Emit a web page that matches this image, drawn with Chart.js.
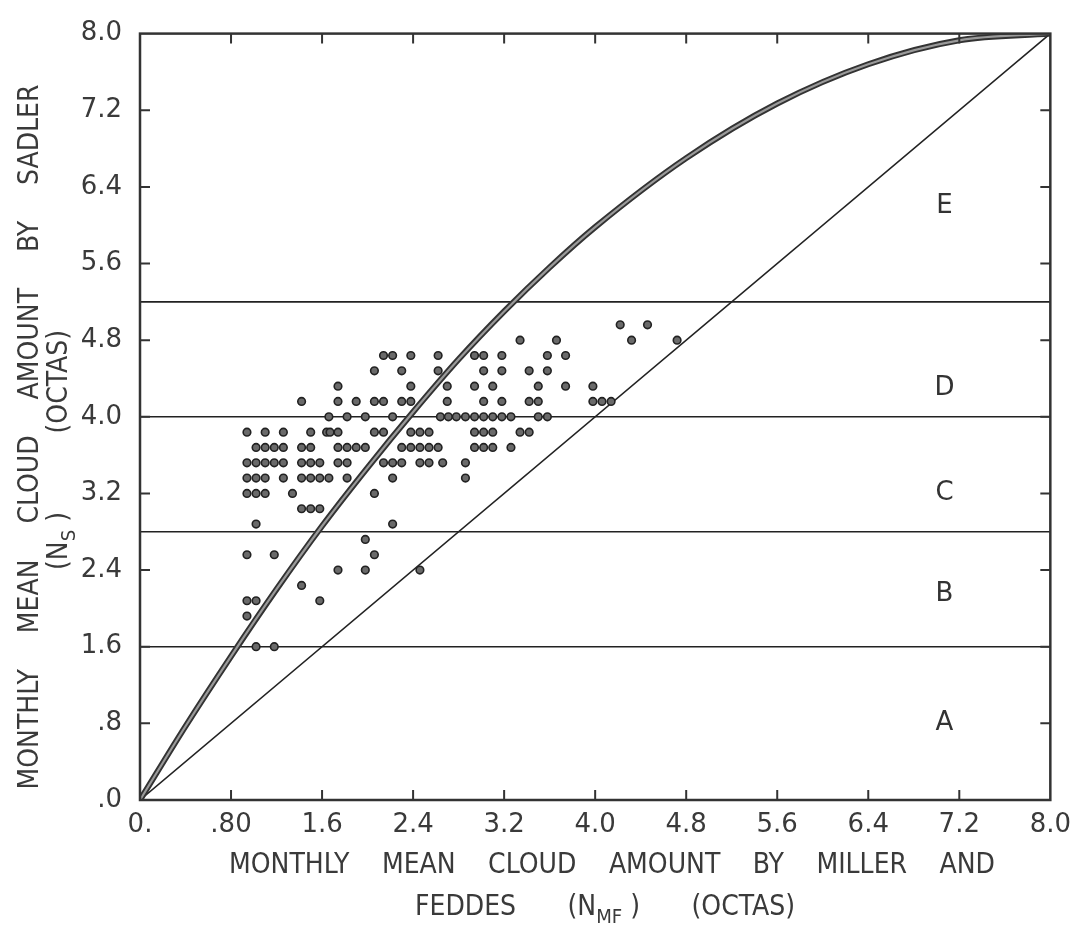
<!DOCTYPE html>
<html lang="en">
<head>
<meta charset="UTF-8">
<title>Monthly mean cloud amount: Sadler vs Miller and Feddes</title>
<style>
  html, body { margin: 0; padding: 0; background: #fff; }
  #chart { display: block; }
</style>
</head>
<body>
<canvas id="chart" width="1081" height="927"></canvas>
<script src="https://cdn.jsdelivr.net/npm/chart.js@4"></script>
<script>
// axis ticks
const xTickValues = [0, 0.8, 1.6, 2.4, 3.2, 4.0, 4.8, 5.6, 6.4, 7.2, 8.0];
const xTickLabels = ['0.', '.80', '1.6', '2.4', '3.2', '4.0', '4.8', '5.6', '6.4', '7.2', '8.0'];
const yTickValues = [0, 0.8, 1.6, 2.4, 3.2, 4.0, 4.8, 5.6, 6.4, 7.2, 8.0];
const yTickLabels = ['.0', '.8', '1.6', '2.4', '3.2', '4.0', '4.8', '5.6', '6.4', '7.2', '8.0'];

// class boundaries and their letters
const bandLimits = [1.6, 2.8, 4.0, 5.2];
const bandNames = ['A', 'B', 'C', 'D', 'E'];
const bandNameY = [0.8, 2.15, 3.2, 4.3, 6.2];
const bandNameX = 7.07;

// heavy curve and the 1:1 line
const curveX = [0, 0.4, 0.8, 1.2, 1.6, 2.0, 2.4, 2.8, 3.2, 3.6, 4.0, 4.8, 5.6, 6.4, 7.2, 8.0];
const curveY = [0, 0.77, 1.5, 2.2, 2.86, 3.47, 4.05, 4.6, 5.1, 5.56, 5.98, 6.7, 7.27, 7.68, 7.93, 8.0];
const diagX = [0, 8];
const diagY = [0, 8];

// monthly points, grouped by their N_S level
const rowLevels = [4.96, 4.80, 4.64, 4.48, 4.32, 4.16, 4.00, 3.84, 3.68, 3.52, 3.36, 3.20, 3.04];
const rowPoints = [
  [4.22, 4.46],
  [3.34, 3.66, 4.32, 4.72],
  [2.14, 2.22, 2.38, 2.62, 2.94, 3.02, 3.18, 3.58, 3.74],
  [2.06, 2.30, 2.62, 3.02, 3.18, 3.42, 3.58],
  [1.74, 2.38, 2.70, 2.94, 3.10, 3.50, 3.74, 3.98],
  [1.42, 1.74, 1.90, 2.06, 2.14, 2.30, 2.38, 2.70, 3.02, 3.18, 3.42, 3.50, 3.98, 4.06, 4.14],
  [1.66, 1.82, 1.98, 2.22, 2.64, 2.71, 2.78, 2.86, 2.94, 3.02, 3.10, 3.18, 3.26, 3.50, 3.58],
  [0.94, 1.10, 1.26, 1.50, 1.64, 1.67, 1.74, 2.06, 2.14, 2.38, 2.46, 2.54, 2.94, 3.02, 3.10, 3.34, 3.42],
  [1.02, 1.10, 1.18, 1.26, 1.42, 1.50, 1.74, 1.82, 1.90, 1.98, 2.30, 2.38, 2.46, 2.54, 2.62, 2.94, 3.02, 3.10, 3.26],
  [0.94, 1.02, 1.10, 1.18, 1.26, 1.42, 1.50, 1.58, 1.74, 1.82, 2.14, 2.22, 2.30, 2.46, 2.54, 2.66, 2.86],
  [0.94, 1.02, 1.10, 1.26, 1.42, 1.50, 1.58, 1.66, 1.82, 2.22, 2.86],
  [0.94, 1.02, 1.10, 1.34, 2.06],
  [1.42, 1.50, 1.58]
];
// scattered low points
const lowX = [1.02, 2.22, 1.98, 0.94, 1.18, 2.06, 1.74, 1.98, 2.46, 1.42, 0.94, 1.02, 1.58, 0.94, 1.02, 1.18];
const lowY = [2.88, 2.88, 2.72, 2.56, 2.56, 2.56, 2.40, 2.40, 2.40, 2.24, 2.08, 2.08, 2.08, 1.92, 1.60, 1.60];

const ink = '#333';
const fontFamily = "'DejaVu Sans', 'Liberation Sans', sans-serif";
const titleFamily = "'DejaVu Sans Condensed', 'Liberation Sans Narrow', 'DejaVu Sans', sans-serif";

const scatterData = [];
rowLevels.forEach((y, i) => rowPoints[i].forEach(x => scatterData.push({ x: x, y: y })));
lowX.forEach((x, i) => scatterData.push({ x: x, y: lowY[i] }));

const toXY = (xs, ys) => xs.map((x, i) => ({ x: x, y: ys[i] }));

const lineSet = (data, width, color, order) => ({
  type: 'line',
  data: data,
  showLine: true,
  borderColor: color,
  borderWidth: width,
  pointRadius: 0,
  fill: false,
  tension: 0,
  order: order
});

const datasets = [];
bandLimits.forEach(v => datasets.push(lineSet([{ x: 0, y: v }, { x: 8, y: v }], 1.6, '#222', 4)));
datasets.push(lineSet(toXY(diagX, diagY), 1.5, '#222', 4));
// heavy curve: dark edges with a grey core
const curveOuter = lineSet(toXY(curveX, curveY), 6, '#333', 3);
curveOuter.cubicInterpolationMode = 'monotone';
const curveInner = lineSet(toXY(curveX, curveY), 2.2, '#9a9a9a', 2);
curveInner.cubicInterpolationMode = 'monotone';
datasets.push(curveOuter, curveInner);
datasets.push({
  type: 'scatter',
  data: scatterData,
  pointRadius: 3.8,
  borderWidth: 1.6,
  borderColor: '#222',
  backgroundColor: '#6a6a6a',
  order: 1
});

// draw text pieces, some of them as subscripts, spread to a given width
function drawPieces(ctx, words, cx, cy, size, targetWidth) {
  const subSize = size * 0.72;
  const widths = words.map(parts => parts.reduce((w, p) => {
    ctx.font = (p[1] ? subSize : size) + 'px ' + titleFamily;
    return w + ctx.measureText(p[0]).width;
  }, 0));
  const total = widths.reduce((a, b) => a + b, 0);
  const gap = words.length > 1 ? (targetWidth - total) / (words.length - 1) : 0;
  let x = cx - targetWidth / 2;
  ctx.textBaseline = 'alphabetic';
  ctx.textAlign = 'left';
  words.forEach(parts => {
    parts.forEach(p => {
      ctx.font = (p[1] ? subSize : size) + 'px ' + titleFamily;
      ctx.fillText(p[0], x, cy + (p[1] ? size * 0.3 : 0));
      x += ctx.measureText(p[0]).width;
    });
    x += gap;
  });
}

const decorations = {
  id: 'decorations',
  afterDraw(chart) {
    const ctx = chart.ctx;
    const xs = chart.scales.x, ys = chart.scales.y;
    const a = chart.chartArea;
    ctx.save();
    ctx.strokeStyle = ink;
    ctx.fillStyle = ink;

    // frame
    ctx.lineWidth = 2.5;
    ctx.strokeRect(a.left, a.top, a.right - a.left, a.bottom - a.top);

    // inward ticks on all four sides
    ctx.lineWidth = 2;
    const tl = 10;
    ctx.beginPath();
    xTickValues.slice(1, -1).forEach(v => {
      const px = xs.getPixelForValue(v);
      ctx.moveTo(px, a.bottom); ctx.lineTo(px, a.bottom - tl);
      ctx.moveTo(px, a.top); ctx.lineTo(px, a.top + tl);
    });
    yTickValues.slice(1, -1).forEach(v => {
      const py = ys.getPixelForValue(v);
      ctx.moveTo(a.left, py); ctx.lineTo(a.left + tl, py);
      ctx.moveTo(a.right, py); ctx.lineTo(a.right - tl, py);
    });
    ctx.stroke();

    // class letters
    ctx.font = '26px ' + fontFamily;
    ctx.textAlign = 'center';
    ctx.textBaseline = 'middle';
    bandNames.forEach((n, i) => {
      ctx.fillText(n, xs.getPixelForValue(bandNameX), ys.getPixelForValue(bandNameY[i]));
    });

    // x axis title
    ctx.fillStyle = '#3a3a3a';
    drawPieces(ctx, [['MONTHLY'], ['MEAN'], ['CLOUD'], ['AMOUNT'], ['BY'], ['MILLER'], ['AND']]
      .map(w => [[w[0], false]]), 612, 873, 28, 766);
    drawPieces(ctx, [[['FEDDES', false]], [['(N', false], ['MF', true], [' )', false]], [['(OCTAS)', false]]],
      605, 915, 28, 380);

    // y axis title, rotated
    ctx.save();
    ctx.translate(38, 437);
    ctx.rotate(-Math.PI / 2);
    drawPieces(ctx, [['MONTHLY'], ['MEAN'], ['CLOUD'], ['AMOUNT'], ['BY'], ['SADLER']]
      .map(w => [[w[0], false]]), 0, 0, 28, 705);
    ctx.restore();
    ctx.save();
    ctx.translate(67, 450);
    ctx.rotate(-Math.PI / 2);
    drawPieces(ctx, [[['(N', false], ['S', true], [' )', false]], [['(OCTAS)', false]]], 0, 0, 28, 240);
    ctx.restore();

    ctx.restore();
  }
};

new Chart(document.getElementById('chart'), {
  type: 'scatter',
  data: { datasets: datasets },
  options: {
    responsive: false,
    animation: false,
    devicePixelRatio: 1,
    layout: { padding: { left: 0, right: 29, top: 19, bottom: 0 } },
    plugins: { legend: { display: false }, tooltip: { enabled: false } },
    scales: {
      x: {
        type: 'linear',
        min: 0,
        max: 8,
        afterBuildTicks: s => { s.ticks = xTickValues.map(v => ({ value: v })); },
        afterFit: s => { s.height = 127; },
        grid: { display: false, drawTicks: false },
        border: { display: false },
        ticks: {
          padding: 10,
          color: '#3a3a3a',
          font: { family: fontFamily, size: 26 },
          maxRotation: 0,
          autoSkip: false,
          callback: (v, i) => xTickLabels[i]
        }
      },
      y: {
        type: 'linear',
        min: 0,
        max: 8,
        afterBuildTicks: s => { s.ticks = yTickValues.map(v => ({ value: v })); },
        afterFit: s => { s.width = 140; },
        grid: { display: false, drawTicks: false },
        border: { display: false },
        ticks: {
          padding: 18,
          color: '#3a3a3a',
          font: { family: fontFamily, size: 26 },
          autoSkip: false,
          callback: (v, i) => yTickLabels[i]
        }
      }
    }
  },
  plugins: [decorations]
});
</script>
</body>
</html>
